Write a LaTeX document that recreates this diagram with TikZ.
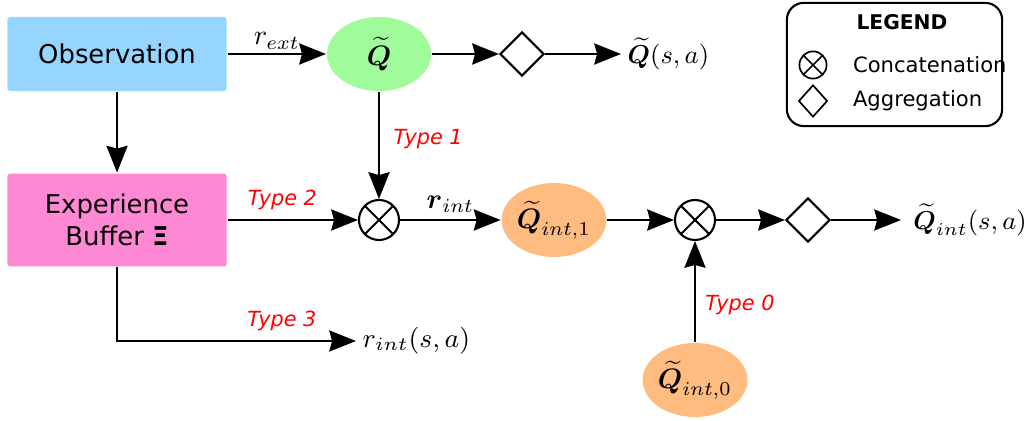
\documentclass[tikz,border=0pt]{standalone}
\usepackage{fix-cm}
\usepackage{amsmath}
\usepackage{amssymb}
\usepackage{fontspec}
\setmainfont{DejaVu Sans}
\usepackage{tikz}
\usepackage{xcolor}
\usetikzlibrary{arrows.meta}
\usetikzlibrary{shapes.geometric}

\definecolor{obsblue}{RGB}{150,213,253}
\definecolor{bufpink}{RGB}{255,136,212}
\definecolor{qgreen}{RGB}{160,251,154}
\definecolor{qorange}{RGB}{255,187,128}

\begin{document}
\begin{tikzpicture}[x=0.0125cm, y=-0.0125cm, line width=0.75pt]
    % Style definitions
    \tikzset{
        block/.style={rectangle, rounded corners=1pt, minimum width=2.74cm, font=\fontsize{9.2}{11.3}\selectfont, align=center},
        qnode/.style={ellipse, minimum width=1.3cm, minimum height=0.925cm, inner sep=0pt},
        cat/.style={circle, draw, minimum size=0.5cm, inner sep=0pt,
            path picture={\draw (path picture bounding box.south west) -- (path picture bounding box.north east)
                (path picture bounding box.north west) -- (path picture bounding box.south east);}},
        agg/.style={diamond, draw, minimum width=0.55cm, minimum height=0.55cm, inner sep=0pt},
        flow/.style={-{Stealth[length=9.5pt, width=7.5pt, inset=1pt]}},
        typelbl/.style={red, font=\fontsize{7.4}{8.5}\selectfont\itshape},
        legtext/.style={font=\fontsize{7.5}{9}\selectfont},
        outlbl/.style={font=\fontsize{9.2}{11}\selectfont, anchor=west, inner sep=1pt, inner xsep=2pt}
    }
    \useasboundingbox (0,0) rectangle (1028,421);

    % ==========================================
    % TOP ROW (observation and extrinsic Q)
    % ==========================================
    \node[block, fill=obsblue, minimum height=0.925cm] (obs) at (117,54) {Observation};
    \node[qnode, fill=qgreen] (qext) at (379,54) {$\boldsymbol{\widetilde{Q}}$};
    \node[agg] (aggext) at (522,54) {};
    \node[outlbl] (outext) at (621,54) {$\boldsymbol{\widetilde{Q}}(s,a)$};

    \draw[flow] (obs) -- (qext) node[midway, above, yshift=-2pt] {$r_{ext}$};
    \draw[flow] (qext) -- (aggext);
    \draw[flow] (aggext) -- (outext);

    % ==========================================
    % MIDDLE ROW (buffer and intrinsic Q)
    % ==========================================
    \node[block, fill=bufpink, minimum height=1.16cm] (buffer) at (117,220) {Experience\\Buffer \textbf{Ξ}};
    \node[cat] (catone) at (379,220) {};
    \node[qnode, fill=qorange] (qintone) at (554,220) {$\boldsymbol{\widetilde{Q}}_{int,1}$};
    \node[cat] (cattwo) at (695,220) {};
    \node[agg] (aggint) at (808,220) {};
    \node[outlbl, inner xsep=4pt] (outint) at (901,220) {$\boldsymbol{\widetilde{Q}}_{int}(s,a)$};

    \draw[flow] (obs) -- (buffer);
    \draw[flow] (qext) -- (catone) node[pos=0.44, right, xshift=1.5pt, typelbl] {Type 1};
    \draw[flow] (buffer) -- (catone) node[pos=0.42, above, typelbl] {Type 2};
    \draw[flow] (catone) -- (qintone) node[midway, above, yshift=-1pt] {$\boldsymbol{r}_{int}$};
    \draw[flow] (qintone) -- (cattwo);
    \draw[flow] (cattwo) -- (aggint);
    \draw[flow] (aggint) -- (outint);

    % ==========================================
    % BOTTOM ROW
    % ==========================================
    \node[qnode, fill=qorange] (qintzero) at (695,380) {$\boldsymbol{\widetilde{Q}}_{int,0}$};
    \node[outlbl, font=\fontsize{9.6}{11}\selectfont] (outr) at (356,341) {$r_{int}(s,a)$};

    \draw[flow] (qintzero) -- (cattwo) node[pos=0.37, right, typelbl] {Type 0};
    \draw[flow] (buffer.south) |- (outr.west) node[pos=0.845, above, typelbl] {Type 3};

    % ==========================================
    % LEGEND
    % ==========================================
    \node[draw, rounded corners=6pt, minimum width=2.69cm, minimum height=1.54cm] (legend) at (894.5,64.5) {};
    \node[legtext, font=\fontsize{7.2}{8.5}\selectfont\bfseries] (legtitle) at (902,22) {LEGEND};
    \node[cat, minimum size=0.34cm, line width=0.6pt] (legcat) at (813,65) {};
    \node[legtext, anchor=west, inner sep=0pt] (legcattext) at (852,65) {Concatenation};
    \node[agg, minimum width=0.36cm, minimum height=0.4cm, line width=0.6pt] (legagg) at (813,101) {};
    \node[legtext, anchor=west, inner sep=0pt] (legaggtext) at (852,101) {Aggregation};
\end{tikzpicture}
\end{document}
